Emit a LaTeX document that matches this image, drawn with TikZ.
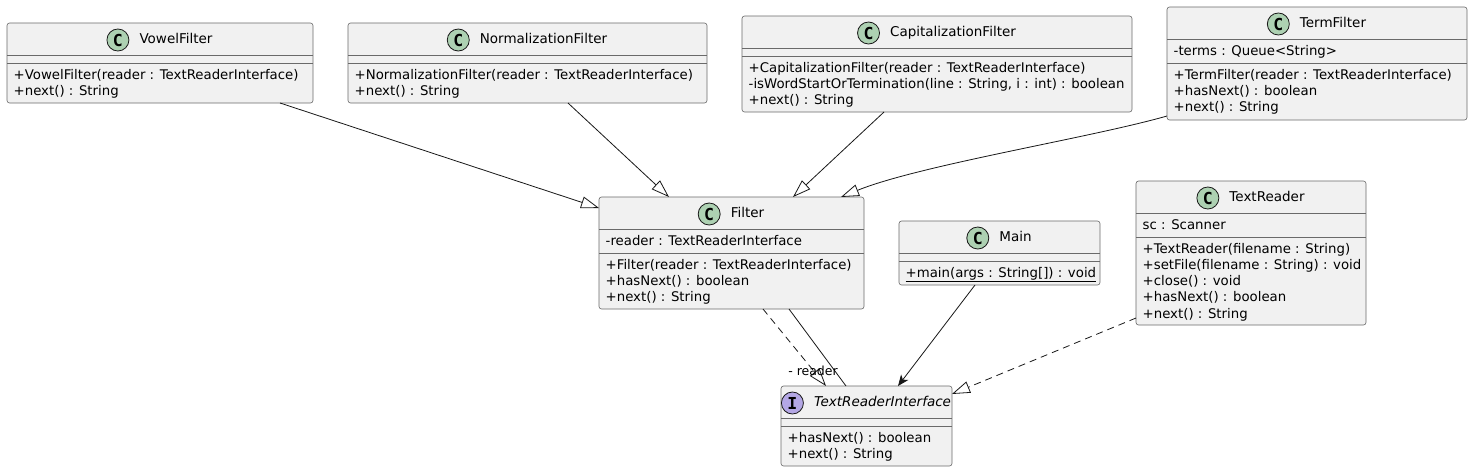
\documentclass[tikz,border=0pt]{standalone}
\usepackage{fontspec}
\setmainfont{DejaVu Sans}
\newfontfamily\iconfont{DejaVu Sans Mono}
\usetikzlibrary{arrows.meta,positioning}
\definecolor{boxfill}{HTML}{F1F1F1}
\definecolor{linec}{HTML}{181818}
\definecolor{borderc}{HTML}{6A6A6A}
\definecolor{cgreen}{HTML}{ADD1B2}
\definecolor{ipurple}{HTML}{B4A7E5}
\tikzset{
  classbox/.style={draw=borderc, fill=boxfill, line width=0.6pt, rounded corners=2.5pt, anchor=north west, inner sep=0pt, outer sep=0pt},
  sepline/.style={draw=borderc, line width=0.6pt},
  member/.style={anchor=base west, inner sep=0pt, font=\fontsize{13.3}{16}\selectfont},
  ctitle/.style={anchor=base, inner sep=0pt, text height=10pt, text depth=3pt, font=\fontsize{13.5}{16}\selectfont},
  cicon/.style={circle, draw=linec, line width=0.8pt, fill=cgreen, minimum size=22pt, inner sep=0pt, font=\iconfont\bfseries\fontsize{16.5}{16}\selectfont},
  iicon/.style={cicon, fill=ipurple},
  ext/.style={draw=linec, line width=0.8pt, -{Triangle[open,length=18pt,width=12pt]}},
  realize/.style={ext, dash pattern=on 7pt off 5pt},
  assoc/.style={draw=linec, line width=0.8pt},
  dep/.style={draw=linec, line width=0.8pt, -{Stealth[length=11pt,width=9pt,inset=3pt]}},
  lbl/.style={inner sep=0pt, font=\fontsize{12.5}{14}\selectfont},
}
\begin{document}
\begin{tikzpicture}[x=1pt,y=-1pt]
\useasboundingbox[fill=white] (0,0) rectangle (1474,472);

% ---------- VowelFilter
\node[classbox, minimum width=306pt, minimum height=80pt] (vowel) at (7,23) {};
\draw[sepline] (7,55) -- (313,55);
\draw[sepline] (7,63) -- (313,63);
\node[ctitle] (vowelT) at (176,43.5) {VowelFilter};
\node[cicon, left=10pt of vowelT] (vowelC) {C};
\node[member] (vowelM1) at (13.5,79) {+VowelFilter(reader : TextReaderInterface)};
\node[member] (vowelM2) at (13.5,95.3) {+next() : String};

% ---------- NormalizationFilter
\node[classbox, minimum width=359pt, minimum height=80pt] (norm) at (348,23) {};
\draw[sepline] (348,55) -- (707,55);
\draw[sepline] (348,63) -- (707,63);
\node[ctitle] (normT) at (543.5,43.5) {NormalizationFilter};
\node[cicon, left=10pt of normT] (normC) {C};
\node[member] (normM1) at (354.5,79) {+NormalizationFilter(reader : TextReaderInterface)};
\node[member] (normM2) at (354.5,95.3) {+next() : String};

% ---------- CapitalizationFilter
\node[classbox, minimum width=390pt, minimum height=96pt] (cap) at (742,16) {};
\draw[sepline] (742,48) -- (1132,48);
\draw[sepline] (742,56) -- (1132,56);
\node[ctitle] (capT) at (953,36.5) {CapitalizationFilter};
\node[cicon, left=10pt of capT] (capC) {C};
\node[member] (capM1) at (748.5,72) {+CapitalizationFilter(reader : TextReaderInterface)};
\node[member] (capM2) at (748.5,88.3) {-isWordStartOrTermination(line : String, i : int) : boolean};
\node[member] (capM3) at (748.5,104.6) {+next() : String};

% ---------- TermFilter
\node[classbox, minimum width=300pt, minimum height=113pt] (term) at (1167,7) {};
\draw[sepline] (1167,39) -- (1467,39);
\draw[sepline] (1167,63) -- (1467,63);
\node[ctitle] (termT) at (1333,27.5) {TermFilter};
\node[cicon, left=10pt of termT] (termC) {C};
\node[member] (termA1) at (1173.5,55) {-terms : Queue<String>};
\node[member] (termM1) at (1173.5,79) {+TermFilter(reader : TextReaderInterface)};
\node[member] (termM2) at (1173.5,95.3) {+hasNext() : boolean};
\node[member] (termM3) at (1173.5,111.6) {+next() : String};

% ---------- Filter
\node[classbox, minimum width=265pt, minimum height=112pt] (filter) at (599,197) {};
\draw[sepline] (599,229) -- (864,229);
\draw[sepline] (599,253) -- (864,253);
\node[ctitle] (filterT) at (747.5,217.5) {Filter};
\node[cicon, left=10pt of filterT] (filterC) {C};
\node[member] (filterA1) at (605.5,245) {-reader : TextReaderInterface};
\node[member] (filterM1) at (605.5,269) {+Filter(reader : TextReaderInterface)};
\node[member] (filterM2) at (605.5,285.3) {+hasNext() : boolean};
\node[member] (filterM3) at (605.5,301.6) {+next() : String};

% ---------- Main
\node[classbox, minimum width=201pt, minimum height=64pt] (main) at (899,221) {};
\draw[sepline] (899,253) -- (1100,253);
\draw[sepline] (899,261) -- (1100,261);
\node[ctitle] (mainT) at (1015.5,241.5) {Main};
\node[cicon, left=10pt of mainT] (mainC) {C};
\node[member] (mainM1) at (905.5,277) {\underline{+main(args : String[]) : void}};

% ---------- TextReader
\node[classbox, minimum width=230pt, minimum height=144pt] (tr) at (1136,181) {};
\draw[sepline] (1136,213) -- (1366,213);
\draw[sepline] (1136,237) -- (1366,237);
\node[ctitle] (trT) at (1267,201.5) {TextReader};
\node[cicon, left=10pt of trT] (trC) {C};
\node[member] (trA1) at (1142.5,229) {sc : Scanner};
\node[member] (trM1) at (1142.5,253) {+TextReader(filename : String)};
\node[member] (trM2) at (1142.5,269.3) {+setFile(filename : String) : void};
\node[member] (trM3) at (1142.5,285.6) {+close() : void};
\node[member] (trM4) at (1142.5,301.9) {+hasNext() : boolean};
\node[member] (trM5) at (1142.5,318.2) {+next() : String};

% ---------- TextReaderInterface
\node[classbox, minimum width=171pt, minimum height=80pt] (iface) at (781,386) {};
\draw[sepline] (781,418) -- (952,418);
\draw[sepline] (781,426) -- (952,426);
\node[ctitle, font=\fontsize{13.5}{16}\selectfont\itshape] (ifaceT) at (882.5,406.5) {TextReaderInterface};
\node[iicon, left=10pt of ifaceT] (ifaceC) {I};
\node[member] (ifaceM1) at (787.5,442) {+hasNext() : boolean};
\node[member] (ifaceM2) at (787.5,458.3) {+next() : String};

% ---------- connectors
\draw[ext] ([xshift=273pt]vowel.south west) -- ([yshift=-11pt]filter.north west);
\draw[ext] ([xshift=220pt]norm.south west) -- ([xshift=70pt]filter.north west);
\draw[ext] ([xshift=142pt]cap.south west) -- ([xshift=194pt]filter.north west);
\draw[ext] ([yshift=4pt]term.south west) .. controls (1090,138) and (920,165) .. ([xshift=242pt]filter.north west);
\draw[realize] ([xshift=164pt]filter.south west) -- ([xshift=45pt]iface.north west);
\draw[assoc] ([xshift=190pt]filter.south west) -- ([xshift=65pt]iface.north west);
\node[lbl] (readerL) at (813,371) {- reader};
\draw[dep] ([xshift=76pt]main.south west) -- ([xshift=117pt]iface.north west);
\draw[realize] ([yshift=7pt]tr.south west) -- ([yshift=-8pt]iface.north east);
\end{tikzpicture}
\end{document}
